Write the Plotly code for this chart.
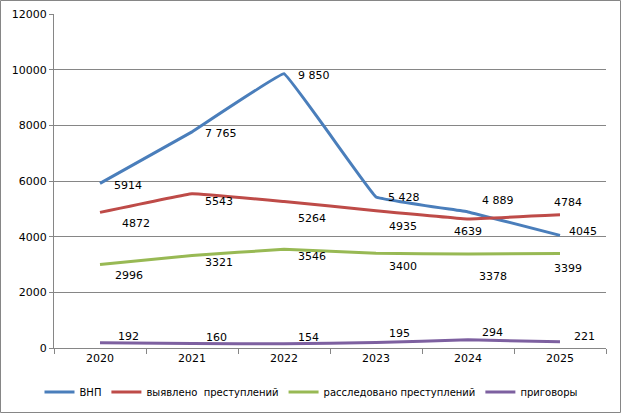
import plotly.graph_objects as go

years = ["2020", "2021", "2022", "2023", "2024", "2025"]

vnp = [5914, 7765, 9850, 5428, 4889, 4045]
vnp_text = ["5914", "7 765", "9 850", "5 428", "4 889", "4045"]
vyyavleno = [4872, 5543, 5264, 4935, 4639, 4784]
rassledovano = [2996, 3321, 3546, 3400, 3378, 3399]
prigovory = [192, 160, 154, 195, 294, 221]

# label offsets in pixels (left edge of text, vertical centre) relative to point
off_vnp = [(12, -2), (11, -2), (12, -2), (10, -1), (12, 11), (7, 4)]
off_red = [(20, -11), (11, -8), (12, -17), (11, -16), (-16, -13), (-8, 12)]
off_green = [(13, -11), (11, -7), (12, -7), (11, -13), (9, -23), (-8, -15)]
off_purple = [(16, 6), (12, 6), (12, 6), (11, 9), (12, 7), (12, 5)]

series = [
    ("ВНП", vnp, vnp_text, "#4A7EBB", off_vnp),
    ("выявлено  преступлений", vyyavleno, [str(v) for v in vyyavleno], "#BE4B48", off_red),
    ("расследовано преступлений", rassledovano, [str(v) for v in rassledovano], "#98B954", off_green),
    ("приговоры", prigovory, [str(v) for v in prigovory], "#7D60A0", off_purple),
]

fig = go.Figure()
annotations = []
for name, vals, texts, color, offs in series:
    fig.add_trace(go.Scatter(
        x=years, y=vals, mode="lines", name=name,
        line=dict(color=color, width=3, shape="spline", smoothing=0.15),
    ))
    # category axis: annotations use the category index
    for i, (v, t, (dx, dy)) in enumerate(zip(vals, texts, offs)):
        annotations.append(dict(
            x=i, y=v, text=t, showarrow=False,
            xanchor="left", yanchor="middle", xshift=dx, yshift=dy,
            font=dict(size=11, color="black", family="DejaVu Sans"),
        ))

W, H = 622, 414
ml, mr, mt, mb = 54, 16, 14, 66
pw, ph = W - ml - mr, H - mt - mb

fig.update_layout(
    width=W, height=H,
    margin=dict(l=ml, r=mr, t=mt, b=mb, autoexpand=False),
    paper_bgcolor="white", plot_bgcolor="white",
    font=dict(family="DejaVu Sans", size=11, color="black"),
    annotations=annotations,
    showlegend=True,
    legend=dict(
        orientation="h", xref="container", yref="container",
        x=0.5, xanchor="center", y=(H - 392) / H, yanchor="middle",
        font=dict(size=10), itemwidth=30, tracegroupgap=0,
    ),
    shapes=[dict(
        type="rect", xref="paper", yref="paper",
        x0=-(ml - 0.5) / pw, x1=1 + (mr - 1.5) / pw,
        y0=-(mb - 1.5) / ph, y1=1 + (mt - 0.5) / ph,
        line=dict(color="#868686", width=1),
    )],
)

fig.update_xaxes(
    type="category", range=[-0.5, 5.5], tickson="boundaries", ticks="outside", ticklen=5,
    tickcolor="#868686", showline=True, linecolor="#868686", linewidth=1,
    showgrid=False, tickfont=dict(size=11), tickangle=0, automargin=False,
)
fig.update_yaxes(
    range=[0, 12000], dtick=2000, tickformat="d", ticks="outside", ticklen=4,
    tickcolor="#868686", showline=True, linecolor="#868686", linewidth=1,
    showgrid=True, gridcolor="#868686", gridwidth=1, zeroline=False,
    tickfont=dict(size=11), automargin=False,
)

fig.write_html("out.html", config={"displayModeBar": False},
               post_script="document.body.style.margin='0';")
